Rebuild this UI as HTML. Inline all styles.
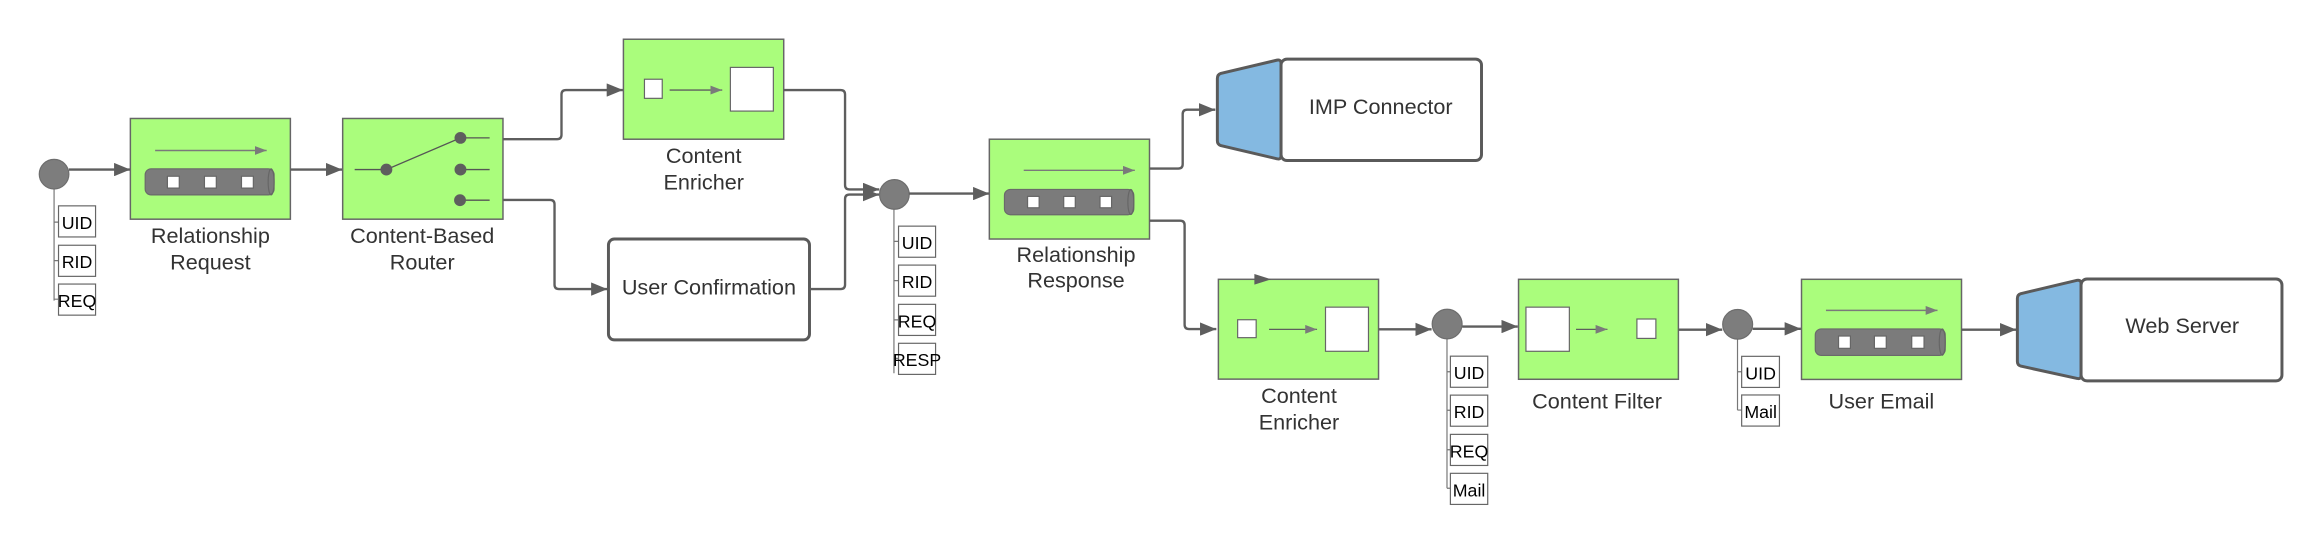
<!DOCTYPE html>
<html><head><meta charset="utf-8"><style>
html,body{margin:0;padding:0;background:#fff;}
svg{display:block;}
text{font-family:"Liberation Sans",sans-serif;}
.lbl{font-size:14.6px;fill:#333;text-anchor:middle;}
.sm{font-size:12px;fill:#000;text-anchor:middle;}
.g{fill:#aafd7c;stroke:#666;stroke-width:1;}
.c{fill:none;stroke:#5e5e5e;stroke-width:1.6;stroke-linejoin:round;}
.tb{fill:#fff;stroke:#666;stroke-width:0.8;}
.v{stroke:#777;stroke-width:0.8;fill:none;}
.w{fill:#fff;stroke:#666;stroke-width:0.8;}
.cyl{fill:#7b7b7b;stroke:#6a6a6a;stroke-width:0.8;}
.dot{fill:#7d7d7d;stroke:#6d6d6d;stroke-width:0.8;}
.rb{fill:#fff;stroke:#5a5a5a;stroke-width:2;}
.tz{fill:#84b9e1;stroke:#5a5a5a;stroke-width:2;stroke-linejoin:round;}
</style></head><body>
<svg width="2323" height="545" viewBox="0 0 1568 368" preserveAspectRatio="none" xmlns="http://www.w3.org/2000/svg">
<defs>
<marker id="a" markerUnits="userSpaceOnUse" markerWidth="12" markerHeight="9" refX="11" refY="4.5" orient="auto"><path d="M0,0 L11,4.5 L0,9 z" fill="#5e5e5e"/></marker>
<marker id="s" markerUnits="userSpaceOnUse" markerWidth="8" markerHeight="6" refX="8" refY="3" orient="auto"><path d="M0,0 L8,3 L0,6 z" fill="#7a7a7a"/></marker>
</defs>

<!-- start circle + tags -->
<path class="v" d="M36.5,127 V203 M36.5,150 H39.5 M36.5,176 H39.5 M36.5,202 H39.5"/>
<ellipse class="dot" cx="36.5" cy="117.6" rx="10" ry="10"/>
<rect class="tb" x="39.5" y="139" width="25" height="21"/><text class="sm" x="52" y="154.5">UID</text>
<rect class="tb" x="39.5" y="165.6" width="25" height="21"/><text class="sm" x="52" y="181">RID</text>
<rect class="tb" x="39.5" y="191.8" width="25" height="21"/><text class="sm" x="52" y="207.3">REQ</text>
<path class="c" d="M46.5,114.5 H88" marker-end="url(#a)"/>

<!-- Relationship Request -->
<rect class="g" x="88" y="80" width="108" height="68"/>
<path d="M104.7,101.6 H180" stroke="#7a7a7a" stroke-width="1" marker-end="url(#s)"/>
<rect class="cyl" x="98" y="114" width="87" height="17.6" rx="4"/>
<ellipse cx="183" cy="122.8" rx="2" ry="8.8" fill="none" stroke="#666" stroke-width="0.8"/>
<rect class="w" x="113" y="119" width="8" height="8"/><rect class="w" x="138" y="119" width="8" height="8"/><rect class="w" x="163" y="119" width="8" height="8"/>
<text class="lbl" x="142" y="164">Relationship</text><text class="lbl" x="142" y="182">Request</text>
<path class="c" d="M196,114.5 H231" marker-end="url(#a)"/>

<!-- Content-Based Router -->
<rect class="g" x="231.3" y="80" width="108.2" height="68"/>
<path d="M239.4,114.5 H260.8 L310.8,93.1 H330.5 M310.8,114.5 H330.5 M310.5,135.2 H330.5" stroke="#555" stroke-width="0.9" fill="none"/>
<circle cx="260.8" cy="114.5" r="4" fill="#5e5e5e"/><circle cx="310.8" cy="93.1" r="4" fill="#5e5e5e"/><circle cx="310.8" cy="114.5" r="4" fill="#5e5e5e"/><circle cx="310.5" cy="135.2" r="4" fill="#5e5e5e"/>
<text class="lbl" x="285" y="164">Content-Based</text><text class="lbl" x="285" y="182">Router</text>
<path class="c" d="M339.5,94 H376 Q379,94 379,91 V63.8 Q379,60.8 382,60.8 H420.5" marker-end="url(#a)"/>
<path class="c" d="M339.5,135 H371.3 Q374.3,135 374.3,138 V192.2 Q374.3,195.2 377.3,195.2 H410" marker-end="url(#a)"/>

<!-- Content Enricher top -->
<rect class="g" x="420.8" y="26.5" width="108.2" height="67.5"/>
<rect class="w" x="435" y="53.5" width="12" height="12.9"/>
<path d="M452,60.8 H487.5" stroke="#5e5e5e" stroke-width="0.9" marker-end="url(#s)"/>
<rect class="w" x="493" y="45.5" width="29" height="29.5"/>
<text class="lbl" x="475" y="110">Content</text><text class="lbl" x="475" y="128">Enricher</text>
<path class="c" d="M529,60.8 H567.4 Q570.4,60.8 570.4,63.8 V124.9 Q570.4,127.9 573.4,127.9 H593.5" marker-end="url(#a)"/>

<!-- User Confirmation -->
<rect class="rb" x="410.7" y="161.4" width="135.7" height="68.1" rx="4"/>
<text class="lbl" x="478.5" y="198.7">User Confirmation</text>
<path class="c" d="M546.4,195.2 H567.4 Q570.4,195.2 570.4,192.2 V134.4 Q570.4,131.4 573.4,131.4 H593.5" marker-end="url(#a)"/>

<!-- circle 2 -->
<path class="v" d="M603.4,140 V252 M603.4,163 H606.5 M603.4,189.5 H606.5 M603.4,216 H606.5 M603.4,242 H606.5"/>
<ellipse class="dot" cx="603.7" cy="131.3" rx="10" ry="10"/>
<rect class="tb" x="606.5" y="152.7" width="25" height="21"/><text class="sm" x="619" y="168.2">UID</text>
<rect class="tb" x="606.5" y="179" width="25" height="21"/><text class="sm" x="619" y="194.5">RID</text>
<rect class="tb" x="606.5" y="205.5" width="25" height="21"/><text class="sm" x="619" y="221">REQ</text>
<rect class="tb" x="606.5" y="231.8" width="25" height="21"/><text class="sm" x="619" y="247.3">RESP</text>
<path class="c" d="M613.7,130.7 H667.8" marker-end="url(#a)"/>

<!-- Relationship Response -->
<rect class="g" x="667.8" y="94" width="108.1" height="67.4"/>
<path d="M691,115 H766" stroke="#7a7a7a" stroke-width="1" marker-end="url(#s)"/>
<rect class="cyl" x="678" y="127.9" width="87.3" height="17.1" rx="4"/>
<ellipse cx="763.3" cy="136.4" rx="2" ry="8.5" fill="none" stroke="#666" stroke-width="0.8"/>
<rect class="w" x="693.6" y="132.6" width="7.8" height="7.7"/><rect class="w" x="718" y="132.6" width="7.8" height="7.7"/><rect class="w" x="742.5" y="132.6" width="7.8" height="7.7"/>
<text class="lbl" x="726.3" y="177">Relationship</text><text class="lbl" x="726.3" y="194">Response</text>
<path class="c" d="M775.9,113.8 H795.3 Q798.3,113.8 798.3,110.8 V77.1 Q798.3,74.1 801.3,74.1 H820.3" marker-end="url(#a)"/>
<path class="c" d="M775.9,149 H796.6 Q799.6,149 799.6,152 V219.2 Q799.6,222.2 802.6,222.2 H821" marker-end="url(#a)"/>

<!-- IMP Connector -->
<path class="tz" d="M821.7,53 Q821.7,50.4 824,49.6 L862,40.6 Q864.7,40 864.7,43 V105 Q864.7,108 862,107.2 L824,98.3 Q821.7,97.4 821.7,95 z"/>
<rect class="rb" x="864.7" y="39.9" width="135.3" height="68.5" rx="4"/>
<text class="lbl" x="932" y="77">IMP Connector</text>

<!-- Content Enricher 2 -->
<rect class="g" x="822.4" y="188.6" width="108.1" height="67.4"/>
<path d="M846.7,185 L858,188.6 L846.7,192.2 z" fill="#5e5e5e"/>
<rect class="w" x="835.4" y="215.9" width="12.5" height="12.1"/>
<path d="M856.6,222.4 H889" stroke="#5e5e5e" stroke-width="0.9" marker-end="url(#s)"/>
<rect class="w" x="894.7" y="207.4" width="29" height="29.8"/>
<text class="lbl" x="876.8" y="272">Content</text><text class="lbl" x="876.8" y="290">Enricher</text>
<path class="c" d="M930.5,222.4 H966.3" marker-end="url(#a)"/>

<!-- circle 3 -->
<path class="v" d="M976.7,228 V329.7 M976.7,251 H979 M976.7,277 H979 M976.7,303.7 H979 M976.7,329.7 H979"/>
<ellipse class="dot" cx="976.8" cy="218.8" rx="10.1" ry="10"/>
<rect class="tb" x="979" y="240.5" width="25.2" height="21"/><text class="sm" x="991.6" y="256">UID</text>
<rect class="tb" x="979" y="266.8" width="25.2" height="21"/><text class="sm" x="991.6" y="282.3">RID</text>
<rect class="tb" x="979" y="293.3" width="25.2" height="21"/><text class="sm" x="991.6" y="308.8">REQ</text>
<rect class="tb" x="979" y="319.6" width="25.2" height="21"/><text class="sm" x="991.6" y="335.1">Mail</text>
<path class="c" d="M987,220.5 H1024.5" marker-end="url(#a)"/>

<!-- Content Filter -->
<rect class="g" x="1025" y="188.6" width="107.9" height="67.5"/>
<rect class="w" x="1030" y="207.4" width="29.3" height="29.8"/>
<path d="M1063.8,222.4 H1085" stroke="#5e5e5e" stroke-width="0.9" marker-end="url(#s)"/>
<rect class="w" x="1104.9" y="215.4" width="12.8" height="13.1"/>
<text class="lbl" x="1078" y="276">Content Filter</text>
<path class="c" d="M1132.9,222.6 H1162.5" marker-end="url(#a)"/>

<!-- circle 4 -->
<path class="v" d="M1172.8,228 V276.9 M1172.8,251 H1175.6 M1172.8,276.9 H1175.6"/>
<ellipse class="dot" cx="1172.9" cy="219" rx="10.1" ry="10"/>
<rect class="tb" x="1175.6" y="240.6" width="25.5" height="21"/><text class="sm" x="1188.4" y="256.1">UID</text>
<rect class="tb" x="1175.6" y="266.7" width="25.5" height="21"/><text class="sm" x="1188.4" y="282.2">Mail</text>
<path class="c" d="M1183,222 H1215.6" marker-end="url(#a)"/>

<!-- User Email -->
<rect class="g" x="1216" y="188.6" width="108" height="67.6"/>
<path d="M1232.5,209.6 H1307.8" stroke="#7a7a7a" stroke-width="1" marker-end="url(#s)"/>
<rect class="cyl" x="1225.3" y="222.1" width="87.7" height="17.9" rx="4"/>
<ellipse cx="1311" cy="231" rx="2" ry="8.9" fill="none" stroke="#666" stroke-width="0.8"/>
<rect class="w" x="1241" y="226.9" width="8" height="8.3"/><rect class="w" x="1265.2" y="226.9" width="8" height="8.3"/><rect class="w" x="1290.4" y="226.9" width="8.3" height="8.3"/>
<text class="lbl" x="1269.9" y="276">User Email</text>
<path class="c" d="M1324,222.6 H1361" marker-end="url(#a)"/>

<!-- Web Server -->
<path class="tz" d="M1361.7,201.5 Q1361.7,199 1364,198.3 L1402,189.3 Q1404.7,188.8 1404.7,191.5 V253.5 Q1404.7,256.3 1402,255.5 L1364,247.2 Q1361.7,246.5 1361.7,244 z"/>
<rect class="rb" x="1404.7" y="188.4" width="135.6" height="68.8" rx="4"/>
<text class="lbl" x="1473" y="225">Web Server</text>
</svg>
</body></html>
